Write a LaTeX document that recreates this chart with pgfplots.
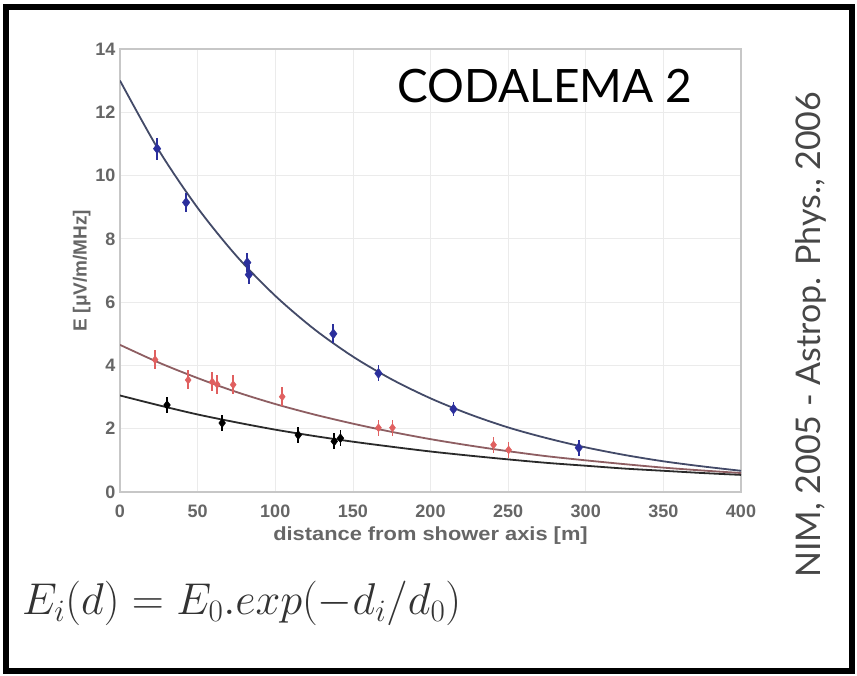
\RequirePackage{fix-cm}
\documentclass[border=0pt]{standalone}
\usepackage[no-math]{fontspec}
\setmainfont{Liberation Sans}
\newfontfamily\gill{Lato}
\usepackage{pgfplots}
\pgfplotsset{compat=1.18}
\definecolor{ptblue}{HTML}{2B2F9C}
\definecolor{ptred}{HTML}{E06060}
\definecolor{fitblue}{HTML}{434A68}
\definecolor{fitred}{HTML}{8E5E62}
\definecolor{fitblack}{HTML}{2A2A2A}

\begin{document}
\begin{tikzpicture}[x=1pt,y=1pt]
\path[use as bounding box] (0,0) rectangle (857,676);
\fill[white] (0,0) rectangle (857,676);

\begin{axis}[
  at={(120pt,184pt)}, anchor=south west,
  scale only axis, width=621pt, height=443pt,
  xmin=0, xmax=400, ymin=0, ymax=14,
  xtick={0,50,...,400}, ytick={0,2,...,14},
  grid=major,
  major grid style={black!8, line width=0.7pt},
  axis line style={black!22, line width=1.2pt},
  tick style={draw=none},
  /pgf/number format/assume math mode=true,
  ticklabel style={font=\fontsize{18}{20}\selectfont\bfseries, text=black!60},
  xticklabel style={yshift=-9pt},
  yticklabel style={xshift=-1pt},
  xlabel={\scalebox{1.15}[1]{distance from shower axis [m]}},
  ylabel={E [μV/m/MHz]},
  label style={font=\fontsize{19}{21}\selectfont\bfseries, text=black!60},
  xlabel style={yshift=-3pt},
  ylabel style={yshift=-2pt},
  error bars/y dir=both, error bars/y explicit,
  error bars/error bar style={line width=1.6pt},
  error bars/error mark=none,
]
% exponential fits of the three events
\addplot[fitblue, line width=1.8pt, smooth, no marks, forget plot] coordinates {
 (0,13.0) (25,10.80) (50,8.98) (75,7.46) (100,6.20) (125,5.15) (150,4.28)
 (175,3.56) (200,2.96) (225,2.46) (250,2.04) (275,1.70) (300,1.41)
 (325,1.17) (350,0.97) (375,0.81) (400,0.67)};
\addplot[fitred, line width=1.8pt, smooth, no marks, forget plot] coordinates {
 (0,4.65) (25,4.09) (50,3.60) (75,3.16) (100,2.78) (125,2.45) (150,2.16)
 (175,1.90) (200,1.67) (225,1.47) (250,1.29) (275,1.13) (300,1.00)
 (325,0.88) (350,0.77) (375,0.68) (400,0.60)};
\addplot[fitblack, line width=1.8pt, smooth, no marks, forget plot] coordinates {
 (0,3.05) (25,2.74) (50,2.45) (75,2.20) (100,1.97) (125,1.77) (150,1.59)
 (175,1.43) (200,1.28) (225,1.15) (250,1.03) (275,0.92) (300,0.83)
 (325,0.74) (350,0.67) (375,0.60) (400,0.54)};

% antenna measurements
\addplot[ptblue, only marks, mark=diamond*, mark size=5pt,
  error bars/error bar style={ptblue, line width=1.8pt}] coordinates {
 (23.9,10.85) +- (0,0.35) (42.6,9.15) +- (0,0.3) (82,7.25) +- (0,0.3)
 (83,6.87) +- (0,0.3) (137.4,5.0) +- (0,0.3) (166.5,3.75) +- (0,0.25)
 (214.8,2.62) +- (0,0.22) (295.5,1.40) +- (0,0.25)};
\addplot[ptred, only marks, mark=diamond*, mark size=4pt,
  error bars/error bar style={ptred, line width=1.8pt}] coordinates {
 (22.6,4.18) +- (0,0.3) (43.9,3.54) +- (0,0.3) (59.4,3.48) +- (0,0.3)
 (62.6,3.40) +- (0,0.3) (72.9,3.39) +- (0,0.3) (104.5,3.01) +- (0,0.3)
 (166.5,2.03) +- (0,0.25) (175.5,2.03) +- (0,0.25) (240.6,1.49) +- (0,0.25)
 (250.3,1.33) +- (0,0.25)};
\addplot[black, only marks, mark=diamond*, mark size=4.5pt,
  error bars/error bar style={black, line width=1.8pt}] coordinates {
 (30.3,2.75) +- (0,0.25) (65.8,2.18) +- (0,0.25) (114.8,1.80) +- (0,0.25)
 (138,1.60) +- (0,0.25) (142,1.70) +- (0,0.25)};
\end{axis}

\node[anchor=base west, inner sep=0pt, font=\gill\fontsize{46}{52}\selectfont]
  at (397,573) {CODALEMA 2};
\node[anchor=base west, inner sep=0pt, rotate=90, text=black!72,
  font=\gill\fontsize{34}{40}\selectfont]
  at (820,98) {NIM, 2005 - Astrop. Phys., 2006};
\node[anchor=base west, inner sep=0pt, text=black!80,
  font=\fontsize{44.5}{50}\selectfont]
  at (22,61) {$E_i(d) = E_0.exp(-d_i/d_0)$};

% frame
\draw[line width=6pt] (6,5) rectangle (852,669);
\end{tikzpicture}
\end{document}
